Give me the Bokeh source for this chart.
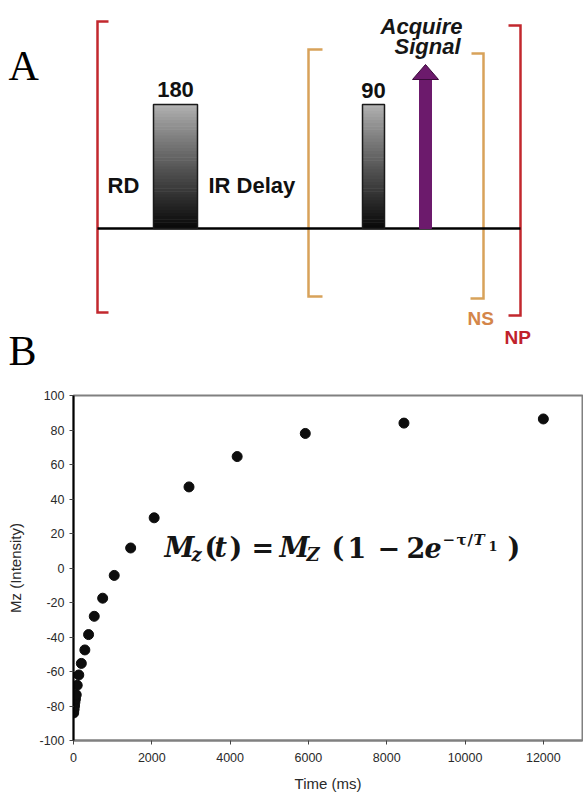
from bokeh.plotting import figure
from bokeh.models import Range1d, ColumnDataSource, FixedTicker
from bokeh.core.properties import value
from bokeh.embed import file_html
from bokeh.resources import INLINE

# ---------------- data: inversion-recovery measurement ----------------
time_ms = [5, 15, 25, 35, 50, 70, 95, 135, 200, 290, 385, 530, 745, 1040,
           1460, 2060, 2950, 4180, 5920, 8440, 12000]
mz_intensity = [-84, -82, -80, -78, -76, -73.5, -68, -62, -55.3, -47.5, -38.6,
                -28, -17.5, -4.3, 11.6, 29.1, 47.0, 64.6, 78.0, 84.0, 86.4]
x_ticks = [0, 2000, 4000, 6000, 8000, 10000, 12000]
y_ticks = [-100, -80, -60, -40, -20, 0, 20, 40, 60, 80, 100]

PAGE_W = 583
TOP_H = 380
LIFT = 0.38   # baseline correction of svg text, as a fraction of font size


def base(y, size):
    """y position for a text glyph whose alphabetic baseline should sit at y."""
    return y - LIFT * size


# ---------------- pulse-sequence diagram (pixel space) ----------------
RED = "#c2282e"
ORANGE = "#d8a25a"
PURPLE = "#6c1a6c"

bracket_xs = [[108, 97, 97, 108], [508, 520, 520, 508],
              [322, 308, 308, 322], [471, 483, 483, 470]]
bracket_ys = [[21, 21, 312, 312], [25, 25, 315, 315],
              [49, 49, 296, 296], [53, 53, 298, 298]]
bracket_colors = [RED, RED, ORANGE, ORANGE]

pulse_left = [153, 362]
pulse_right = [197, 384]
pulse_top = 104
base_y = 228

fa = figure(width=PAGE_W, height=TOP_H, x_range=Range1d(0, PAGE_W),
            y_range=Range1d(TOP_H, 0),
            output_backend="svg", toolbar_location=None,
            x_axis_type=None, y_axis_type=None, min_border=0)
fa.outline_line_color = None
fa.grid.visible = False
fa.background_fill_color = "white"
fa.border_fill_color = "white"

fa.multi_line(xs=bracket_xs, ys=bracket_ys, line_color=bracket_colors,
              line_width=2.5, line_join="miter")
fa.line(x=[97, 520], y=[base_y, base_y], line_color="black", line_width=2.5)

# pulses with a vertical grey-to-black shading
n_strips = 40
for l, r in zip(pulse_left, pulse_right):
    h = (base_y - pulse_top) / n_strips
    tops, bots, cols = [], [], []
    for i in range(n_strips):
        f = i / (n_strips - 1)
        g = int(178 - 168 * f ** 0.9)
        tops.append(pulse_top + i * h)
        bots.append(pulse_top + (i + 1) * h + 0.5)
        cols.append("#%02x%02x%02x" % (g, g, g))
    fa.quad(left=l, right=r, top=tops, bottom=bots, fill_color=cols, line_color=None)
    fa.quad(left=[l], right=[r], top=[pulse_top], bottom=[base_y],
            fill_color=None, line_color="#1a1a1a", line_width=1.5)

# acquisition arrow
fa.quad(left=[419], right=[431], top=[78], bottom=[base_y], fill_color=PURPLE,
        line_color=PURPLE, line_width=1)
fa.patch(x=[412, 438, 425], y=[79, 79, 64], fill_color=PURPLE,
         line_color="#3a0a3a", line_width=1)

sans = value("Liberation Sans")
fa.text(x=[175, 373], y=[base(97, 22), base(98, 22)], text=["180", "90"], text_font=sans,
        text_font_size="22px", text_font_style="bold", text_align="center",
        text_baseline="alphabetic", text_color="#111111")
fa.text(x=[107, 208], y=[base(193, 22)] * 2, text=["RD", "IR Delay"], text_font=sans,
        text_font_size="22px", text_font_style="bold", text_align="left",
        text_baseline="alphabetic", text_color="#111111")
fa.text(x=[421, 427], y=[base(34, 22), base(54, 22)], text=["Acquire", "Signal"],
        text_font=sans, text_font_size="22px", text_font_style="bold italic",
        text_align="center", text_baseline="alphabetic", text_color="#161616")
fa.text(x=[467], y=[base(325, 19)], text=["NS"], text_font=sans, text_font_size="19px",
        text_font_style="bold", text_baseline="alphabetic", text_color="#d4864a")
fa.text(x=[504], y=[base(344, 19)], text=["NP"], text_font=sans, text_font_size="19px",
        text_font_style="bold", text_baseline="alphabetic", text_color="#c0222c")
fa.text(x=[8, 8], y=[base(81, 42), base(366, 42)], text=["A", "B"],
        text_font=value("Liberation Serif"), text_font_size="42px",
        text_baseline="alphabetic", text_color="black")

# ---------------- recovery curve ----------------
fb = figure(width=PAGE_W, height=797 - TOP_H, x_range=Range1d(0, 13000),
            y_range=Range1d(-100, 100),
            output_backend="svg", toolbar_location=None,
            min_border_left=73, min_border_right=1, min_border_top=395 - TOP_H,
            min_border_bottom=57)
fb.grid.visible = False
fb.background_fill_color = "white"
fb.border_fill_color = "white"
fb.outline_line_color = "#808080"
fb.outline_line_width = 2

fb.scatter(time_ms, mz_intensity, size=10, marker="circle", fill_color="#0d0d0d",
           line_color="#0d0d0d")

for ax in (fb.xaxis[0], fb.yaxis[0]):
    ax.major_label_text_font = "Liberation Sans"
    ax.major_label_text_font_size = "12.5px"
    ax.major_label_text_color = "#2a2a2a"
    ax.axis_label_text_font = "Liberation Sans"
    ax.axis_label_text_font_size = "15px"
    ax.axis_label_text_font_style = "normal"
    ax.axis_label_text_color = "#2a2a2a"
    ax.minor_tick_line_color = None
    ax.major_tick_out = 4
    ax.major_tick_in = 0
    ax.major_tick_line_color = "#444444"

fb.xaxis.ticker = FixedTicker(ticks=x_ticks)
fb.yaxis.ticker = FixedTicker(ticks=y_ticks)
fb.yaxis.major_label_overrides = {t: str(t) for t in y_ticks}
fb.xaxis.axis_label = "Time (ms)"
fb.yaxis.axis_label = "Mz (Intensity)"
fb.xaxis.axis_line_color = "#808080"
fb.xaxis.axis_line_width = 2
fb.yaxis.axis_line_color = "black"
fb.yaxis.axis_line_width = 2
fb.xaxis.major_label_standoff = 8
fb.xaxis.axis_label_standoff = 10
fb.yaxis.major_label_standoff = 5
fb.yaxis.axis_label_standoff = 12

# relaxation equation, anchored in data space and laid out with pixel offsets
eq_x, eq_y = 2324, 6.1
eq_left = 165
BIG, SUB, SUP, SUP2 = 27, 18, 15, 13
eq = ColumnDataSource(dict(
    text=["M", "z", "(", "t", ")", "=", "M", "Z", "(", "1", "\u2212", "2", "e",
          "\u2212", "\u03c4", "/", "T", "1", ")"],
    px=[165, 192, 205, 215, 230, 252, 280, 307, 332, 348, 378, 407, 425,
        443, 457, 468, 474, 489, 508],
    dy=[0, 4, 0, 0, 0, 0, 0, 4, 0, 0, 0, 0, 0, -12, -12, -12, -12, -7, 0],
    size=[BIG, SUB, BIG, BIG, BIG, BIG, BIG, SUB, BIG, BIG, BIG, BIG, BIG,
          SUP, SUP, SUP, SUP, SUP2, BIG],
    style=["bold italic", "bold italic", "bold", "bold italic", "bold", "bold",
           "bold italic", "bold italic", "bold", "bold", "bold", "bold", "bold italic",
           "bold", "bold", "bold", "bold italic", "bold", "bold"],
))
eq.data["xo"] = [p - eq_left for p in eq.data["px"]]
eq.data["yo"] = [d - LIFT * sz for d, sz in zip(eq.data["dy"], eq.data["size"])]
eq.data["fs"] = ["%dpx" % sz for sz in eq.data["size"]]
eq.data["x"] = [eq_x] * len(eq.data["text"])
eq.data["y"] = [eq_y] * len(eq.data["text"])
fb.text(x="x", y="y", text="text", x_offset="xo", y_offset="yo", source=eq,
        text_font=value("DejaVu Serif"), text_font_size="fs", text_font_style="style",
        text_align="left", text_baseline="alphabetic", text_color="#151515")

# two stacked roots keep each panel's own frame geometry
open("out.html", "w").write(file_html([fa, fb], INLINE))
